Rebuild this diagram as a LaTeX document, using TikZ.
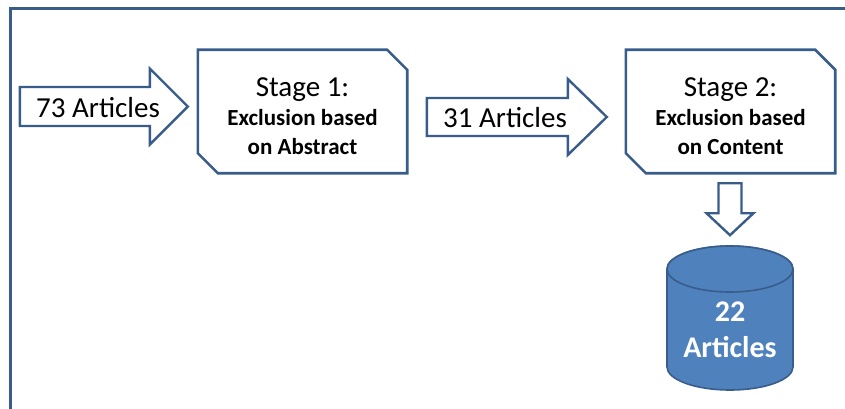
\documentclass[tikz,border=0pt]{standalone}
\usepackage{fontspec}
\setmainfont{Carlito}
\usetikzlibrary{calc}

\definecolor{lineblue}{RGB}{56,93,138}
\definecolor{fillblue}{RGB}{79,129,189}

% box with two snipped corners, drawn round a named node
\newcommand{\snipbox}[1]{%
  \draw[boxline] (#1.north west) -- ([xshift=-20pt]#1.north east) -- ([yshift=-20pt]#1.north east)
    -- (#1.south east) -- ([xshift=20pt]#1.south west) -- ([yshift=20pt]#1.south west) -- cycle;}

\begin{document}
\begin{tikzpicture}[x=1pt,y=1pt,
    boxline/.style={draw=lineblue,line width=2.6pt,line join=miter},
    stagebox/.style={minimum width=209pt,minimum height=123pt,inner sep=0pt,align=center,
      font=\bfseries\fontsize{23}{29}\selectfont},
    blockarr/.style={draw=lineblue,line width=2.4pt,fill=white,line join=miter},
    arrtext/.style={inner sep=0pt,font=\fontsize{29}{29}\selectfont},
    cyl/.style={draw=lineblue,line width=1.6pt,fill=fillblue},
    dbtext/.style={inner sep=0pt,align=center,text=white,font=\bfseries\fontsize{30}{36}\selectfont}]
\useasboundingbox (0,0) rectangle (845,408);
\clip (0,0) rectangle (845,408);
% frame
\draw[lineblue,line width=2.2pt] (10.5,-20) |- (870,399.5);

% stages
\node[stagebox] (s1) at (302.5,296.5) {{\mdseries\fontsize{29}{29}\selectfont\rule{0pt}{28pt}Stage 1:}\\Exclusion based\\on Abstract};
\node[stagebox] (s2) at (730.5,296.5) {{\mdseries\fontsize{29}{29}\selectfont\rule{0pt}{28pt}Stage 2:}\\Exclusion based\\on Content};
\snipbox{s1}
\snipbox{s2}

% block arrows
\coordinate (t1) at ([shift={(-10pt,5pt)}]s1.west);
\coordinate (t2) at ([shift={(-19pt,-5.5pt)}]s2.west);
\coordinate (t3) at ([shift={(-0.5pt,-62pt)}]s2.south);
\draw[blockarr] (t1) -- ++(-38,38) -- ++(0,-18.5) -- ++(-130,0) -- ++(0,-39) -- ++(130,0) -- ++(0,-18.5) -- cycle;
\draw[blockarr] (t2) -- ++(-39,38) -- ++(0,-19) -- ++(-141,0) -- ++(0,-38) -- ++(141,0) -- ++(0,-19) -- cycle;
\draw[blockarr] (t3) -- ++(-23.5,22) -- ++(12,0) -- ++(0,30) -- ++(23,0) -- ++(0,-30) -- ++(12,0) -- cycle;
\node[arrtext,anchor=base] (n73) at (98,291) {73 Articles};
\node[arrtext,anchor=base] (n31) at (505,281) {31 Articles};

% result
\coordinate (db) at (730,90);
\draw[cyl] ([shift={(-63,49)}]db) -- ([shift={(-63,-49)}]db)
  arc[start angle=180,end angle=360,x radius=63,y radius=23] -- ++(0,98)
  arc[start angle=0,end angle=180,x radius=63,y radius=23] -- cycle;
\draw[cyl] ([yshift=49]db) ellipse[x radius=63,y radius=23];
\node[dbtext] (n22) at (730,77.75) {22\\Articles};
\end{tikzpicture}
\end{document}
